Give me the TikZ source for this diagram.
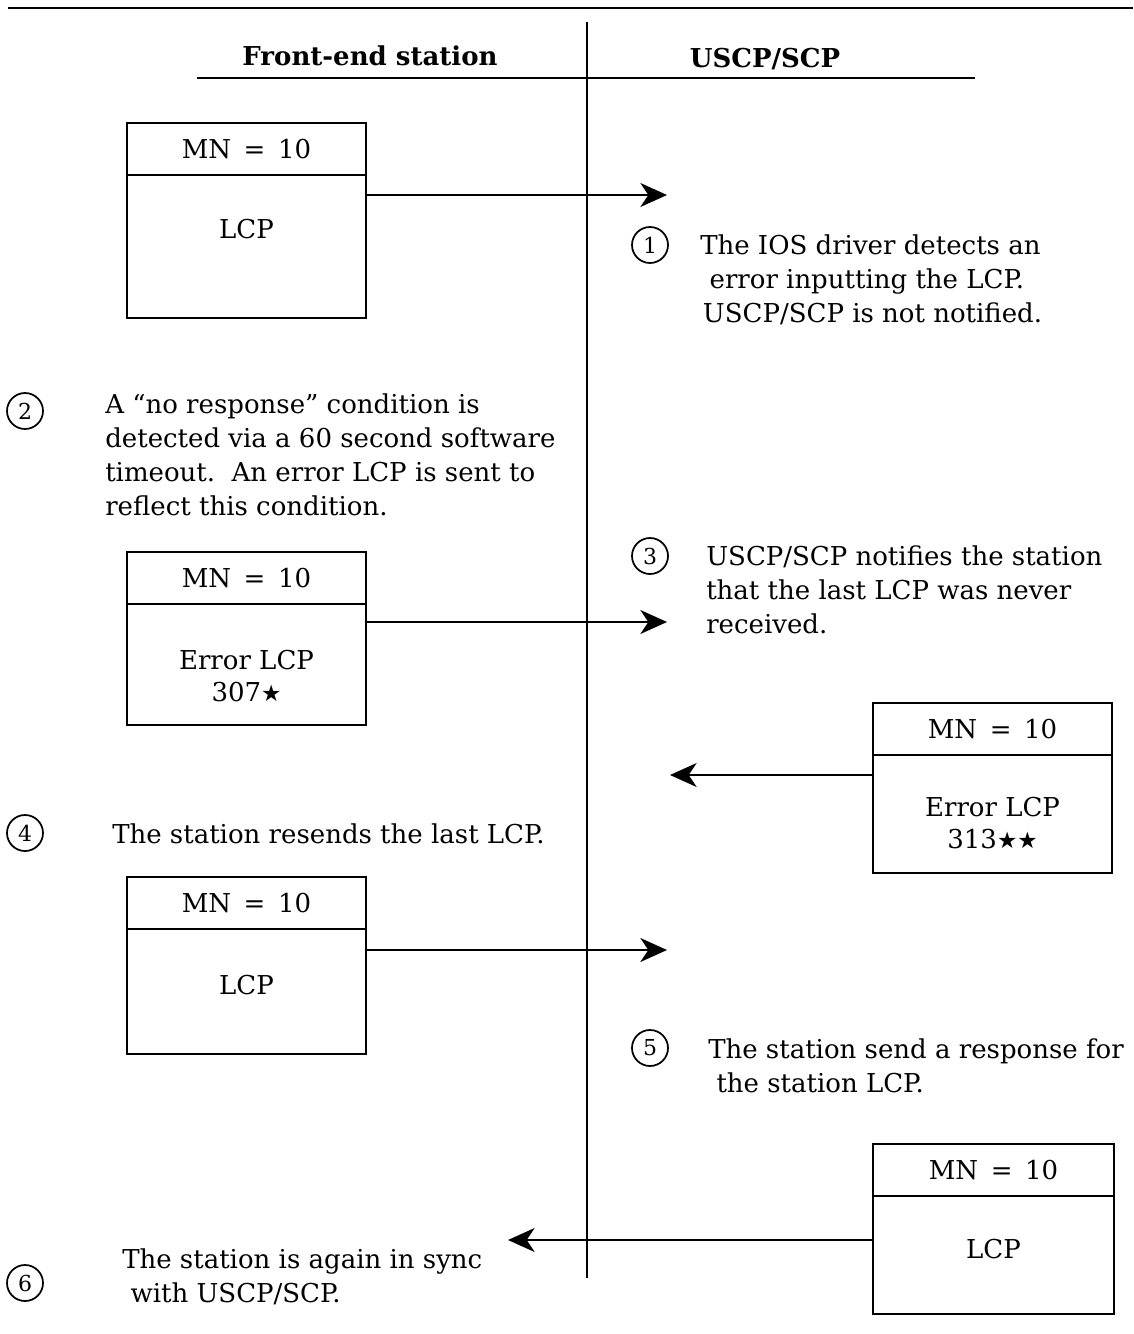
\documentclass[tikz,border=0pt]{standalone}
\usepackage{fontspec}
\setmainfont{DejaVu Serif}
\newfontfamily\symfont{DejaVu Sans}
\usepackage{tikz}
\usetikzlibrary{positioning,arrows.meta}

\newcommand{\txtfont}{\fontsize{19.5}{25.5}\selectfont}
\newcommand{\numfont}{\fontsize{16.5}{18}\selectfont}
\newcommand{\blackstar}{{\symfont\fontsize{17}{17}\selectfont ★}}

\tikzset{
  hdrbox/.style={draw, line width=1.25pt, minimum width=179.25pt, minimum height=39pt,
    inner sep=0pt, outer sep=0pt, anchor=north west, font=\txtfont},
  bodybox/.style={draw, line width=1.25pt, minimum width=179.25pt, inner sep=0pt, outer sep=0pt},
  boxtext/.style={align=center, inner sep=0pt, font=\txtfont},
  stepnum/.style={draw, circle, line width=1.3pt, minimum size=27pt, inner sep=0pt, font=\numfont},
  note/.style={anchor=north west, align=left, inner sep=0pt, font=\txtfont},
  msg/.style={line width=1.25pt, -{Stealth[length=20pt,width=18pt,inset=6pt]}}
}

\begin{document}
\begin{tikzpicture}[x=0.75pt,y=0.75pt,yscale=-1,xscale=1]
\useasboundingbox (0,0) rectangle (1133,1334);

% frame lines
\draw [line width=2pt] (8,8) -- (1133,8);
\draw [line width=1.7pt] (587,22) -- (587,1278);
\draw [line width=1.5pt] (197,78) -- (975,78);

\node [anchor=base, font=\txtfont\bfseries] (fes) at (370,66) {Front-end station};
\node [anchor=base, font=\txtfont\bfseries] (scp) at (765,68) {USCP/SCP};

% boxes
\node [hdrbox] (h1) at (127,123) {MN~\,=~\,10};
\node [bodybox, minimum height=107.25pt, below=0pt of h1] (b1) {};
\node [boxtext] (t1) at ([yshift=40.5pt]b1.north) {LCP};

\node [hdrbox] (h2) at (127,552) {MN~\,=~\,10};
\node [bodybox, minimum height=90.75pt, below=0pt of h2] (b2) {};
\node [boxtext] (t2) at ([yshift=54pt]b2.north) {Error LCP\\[-1pt]307\blackstar};

\node [hdrbox] (h3) at (873,703) {MN~\,=~\,10};
\node [bodybox, minimum height=88.5pt, below=0pt of h3] (b3) {};
\node [boxtext] (t3) at ([yshift=51pt]b3.north) {Error LCP\\[-1pt]313\blackstar\blackstar};

\node [hdrbox] (h4) at (127,877) {MN~\,=~\,10};
\node [bodybox, minimum height=93.75pt, below=0pt of h4] (b4) {};
\node [boxtext] (t4) at ([yshift=42pt]b4.north) {LCP};

\node [hdrbox, minimum width=180.75pt] (h5) at (873,1144) {MN~\,=~\,10};
\node [bodybox, minimum width=180.75pt, minimum height=88.5pt, below=0pt of h5] (b5) {};
\node [boxtext] (t5) at ([yshift=39.75pt]b5.north) {LCP};

% arrow ends
\coordinate (e1) at (667,195);
\coordinate (e3) at (667,622);
\coordinate (e4) at (670,775);
\coordinate (e5) at (667,950);
\coordinate (e6) at (508,1240);

\draw [msg] (b1.east |- e1) -- (e1);
\draw [msg] (b2.east |- e3) -- (e3);
\draw [msg] (b3.west |- e4) -- (e4);
\draw [msg] (b4.east |- e5) -- (e5);
\draw [msg] (b5.west |- e6) -- (e6);

% steps
\node [stepnum] (s1) at (650,245) {1};
\node [note] (n1) at (700,234) {The IOS driver detects an\\\hspace*{7pt}error inputting the LCP.\\\hspace*{2pt}USCP/SCP is not notified.};

\node [stepnum] (s2) at (25,411) {2};
\node [note] (n2) at (105,393) {A “no response” condition is\\detected via a 60 second software\\timeout.\ \ An error LCP is sent to\\reflect this condition.};

\node [stepnum] (s3) at (650,556) {3};
\node [note] (n3) at (706,545) {USCP/SCP notifies the station\\that the last LCP was never\\received.};

\node [stepnum] (s4) at (25,833) {4};
\node [note, anchor=base west] (n4) at (112,843) {The station resends the last LCP.};

\node [stepnum] (s5) at (650,1048) {5};
\node [note] (n5) at (708,1038) {The station send a response for\\\ the station LCP.};

\node [stepnum] (s6) at (25,1283) {6};
\node [note] (n6) at (122,1248) {The station is again in sync\\\ with USCP/SCP.};

\end{tikzpicture}
\end{document}
